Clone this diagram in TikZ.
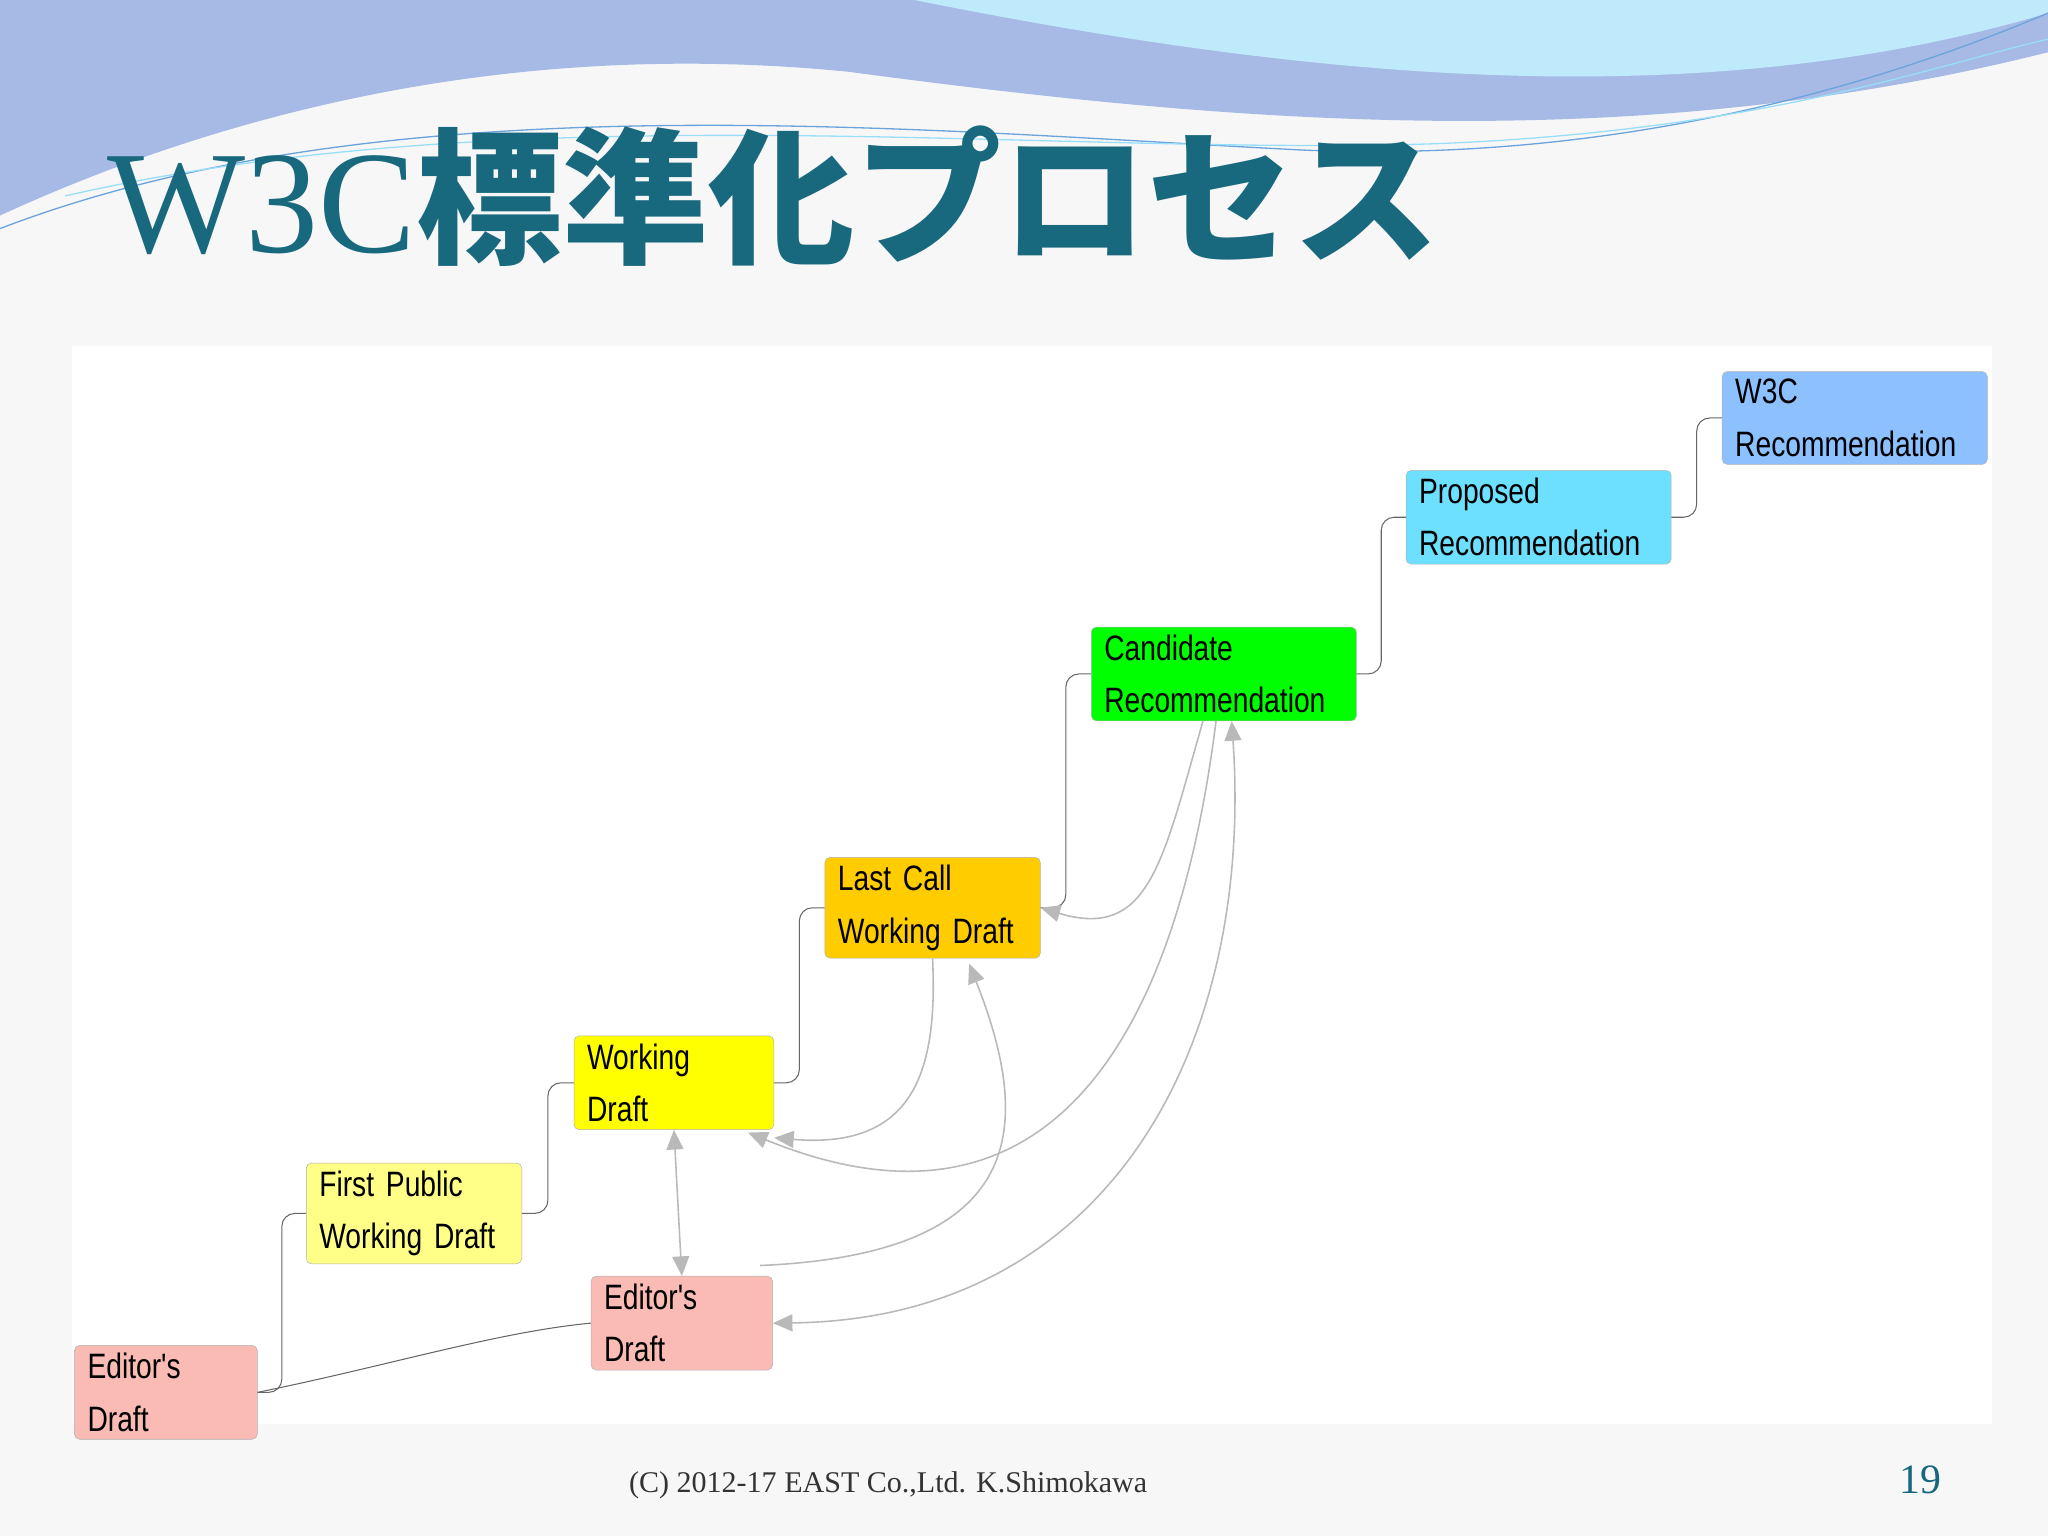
\documentclass[tikz,border=0pt]{standalone}
\usepackage{fontspec}
\setmainfont{Liberation Sans}
\newfontfamily\narrowfont{Liberation Sans}[FakeStretch=0.8]
\newfontfamily\jpfont{Noto Sans CJK JP}
\newfontfamily\titleserif{Liberation Serif}
\usetikzlibrary{arrows.meta,calc}
\definecolor{titleteal}{HTML}{18687E}
\definecolor{pinkbox}{HTML}{F9BBB3}
\definecolor{paleyellow}{HTML}{FFFF88}
\definecolor{brightyellow}{HTML}{FFFF00}
\definecolor{amber}{HTML}{FFCC00}
\definecolor{lime}{HTML}{00FF00}
\definecolor{skyblue}{HTML}{6EE0FF}
\definecolor{recblue}{HTML}{8CC0FF}
\tikzset{
  stage/.style={draw=gray!60, rounded corners=4, align=left, inner xsep=10pt, inner ysep=6pt,
    font=\narrowfont\fontsize{27}{40}\selectfont, anchor=center},
  advance/.style={draw=gray!80!black, line width=0.8pt, rounded corners=10},
  back/.style={draw=gray!55, line width=1.2pt, -{Triangle[width=13pt,length=15pt]}},
  both/.style={back, {Triangle[width=13pt,length=15pt]}-{Triangle[width=13pt,length=15pt]}}
}
\begin{document}
\begin{tikzpicture}[x=1pt,y=1pt,yscale=-1]
  \useasboundingbox (0,0) rectangle (1568,1176);
  % background and header waves
  \fill[gray!6] (0,0) rectangle (1568,1176);
  \fill[cyan!45!blue!35] (0,0) -- (1568,0) -- (1568,40) .. controls (1250,120) and (950,95) .. (650,55) .. controls (350,25) and (120,110) .. (0,165) -- cycle;
  \fill[cyan!25] (700,0) -- (1568,0) -- (1568,10) .. controls (1300,90) and (1000,60) .. (700,0) -- cycle;
  \draw[cyan!60!blue!60, line width=1pt] (0,175) .. controls (300,60) and (700,100) .. (1000,115) .. controls (1250,125) and (1450,60) .. (1568,10);
  \draw[cyan!40, line width=1pt] (50,150) .. controls (400,70) and (800,120) .. (1100,110) .. controls (1350,100) and (1480,50) .. (1568,30);
  \fill[white] (55,265) rectangle (1525,1090);
  % title
  \node[anchor=west, text=titleteal, inner sep=0pt] (title) at (82,150)
    {\titleserif\fontsize{112}{112}\selectfont W3C\jpfont\bfseries 標準化プロセス};
  % stages
  \node[stage, fill=pinkbox, text width=120pt] (ed) at (127,1066) {Editor's Draft};
  \node[stage, fill=paleyellow, text width=145pt] (fpwd) at (317,929) {First Public\\Working Draft};
  \node[stage, fill=brightyellow, text width=133pt] (wd) at (516,829) {Working Draft};
  \node[stage, fill=pinkbox, text width=119pt] (edb) at (522,1013) {Editor's Draft};
  \node[stage, fill=amber, text width=145pt] (lcwd) at (714,695) {Last Call\\Working Draft};
  \node[stage, fill=lime, text width=183pt] (cr) at (937,516) {Candidate\\Recommendation};
  \node[stage, fill=skyblue, text width=183pt] (pr) at (1178,396) {Proposed\\Recommendation};
  \node[stage, fill=recblue, text width=183pt] (rec) at (1420,320) {W3C\\Recommendation};
  % forward steps
  \foreach \a/\b in {ed/fpwd, fpwd/wd, wd/lcwd, lcwd/cr, cr/pr, pr/rec}
    \draw[advance] (\a.east) -| ($(\a.east)!.5!(\b.west)$) |- (\b.west);
  \draw[gray!80!black, line width=0.8pt] (ed.east) .. controls (300,1045) and (380,1020) .. (edb.west);
  % returns
  \draw[both] (edb.north) -- (wd.south);
  \draw[back] ([xshift=0pt]lcwd.south) .. controls (718,820) and (700,880) .. ([yshift=6pt]wd.south east);
  \draw[back] ([xshift=-16pt]cr.south) .. controls (890,660) and (880,720) .. (lcwd.east);
  \draw[back] ([xshift=-6pt]cr.south) .. controls (900,800) and (800,960) .. ([xshift=-20pt,yshift=2pt]wd.south east);
  \draw[back] ([xshift=60pt,yshift=-8pt]edb.north) .. controls (790,960) and (790,860) .. ([xshift=28pt,yshift=4pt]lcwd.south);
  \draw[both] ([xshift=6pt]cr.south) .. controls (960,800) and (850,1010) .. (edb.east);
  % footer
  \node[font=\titleserif\fontsize{23}{23}\selectfont, text=black!80] (foot) at (680,1137) {(C) 2012-17 EAST Co.,Ltd. K.Shimokawa};
  \node[font=\titleserif\fontsize{32}{32}\selectfont, text=titleteal] (page) at (1470,1133) {19};
\end{tikzpicture}
\end{document}
